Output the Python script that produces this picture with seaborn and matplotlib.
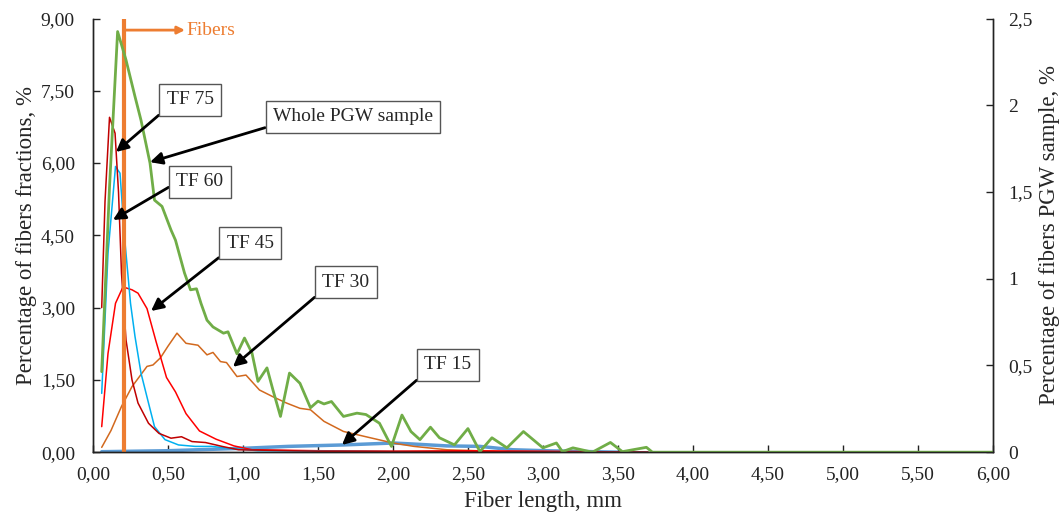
import matplotlib
matplotlib.use("Agg")
import matplotlib.pyplot as plt
import seaborn as sns
import pandas as pd
from matplotlib.ticker import FuncFormatter, MultipleLocator

# values (fiber length in mm, share in %)
pgw_x = [0.058, 0.11, 0.164, 0.22, 0.28, 0.32, 0.38, 0.41, 0.46, 0.52, 0.55, 0.61, 0.65, 0.69,
         0.72, 0.76, 0.80, 0.87, 0.90, 0.96, 1.01, 1.06, 1.10, 1.16, 1.20, 1.25, 1.31, 1.38,
         1.45, 1.50, 1.54, 1.59, 1.67, 1.76, 1.82, 1.91, 1.99, 2.06, 2.12, 2.18, 2.25, 2.31,
         2.41, 2.50, 2.58, 2.66, 2.76, 2.87, 3.00, 3.09, 3.13, 3.20, 3.33, 3.45, 3.53, 3.69,
         3.73, 6.00]
pgw_y = [0.464, 1.528, 2.425, 2.261, 2.05, 1.914, 1.667, 1.453, 1.417, 1.281, 1.222, 1.033,
         0.936, 0.942, 0.858, 0.761, 0.722, 0.686, 0.694, 0.567, 0.658, 0.572, 0.408, 0.486,
         0.358, 0.206, 0.456, 0.397, 0.256, 0.294, 0.278, 0.292, 0.206, 0.225, 0.217, 0.167,
         0.033, 0.214, 0.119, 0.072, 0.144, 0.083, 0.042, 0.136, 0.003, 0.083, 0.025, 0.119,
         0.025, 0.053, 0.003, 0.025, 0.0, 0.056, 0.003, 0.028, 0.0, 0.0]

tf30_x = [0.058, 0.12, 0.19, 0.26, 0.31, 0.36, 0.40, 0.45, 0.50, 0.56, 0.62, 0.70, 0.76, 0.80,
          0.85, 0.89, 0.96, 1.02, 1.11, 1.20, 1.29, 1.38, 1.45, 1.54, 1.67, 1.82, 2.00, 2.14,
          2.36, 2.56, 2.80, 3.70]
tf30_y = [0.10, 0.45, 0.95, 1.36, 1.57, 1.78, 1.81, 1.96, 2.20, 2.47, 2.26, 2.22, 2.02, 2.07,
          1.88, 1.86, 1.57, 1.60, 1.29, 1.15, 1.02, 0.91, 0.88, 0.64, 0.43, 0.32, 0.19, 0.12,
          0.05, 0.03, 0.0, 0.0]

tf45_x = [0.058, 0.10, 0.15, 0.20, 0.26, 0.30, 0.36, 0.42, 0.49, 0.55, 0.62, 0.71, 0.82, 0.94,
          1.06, 1.50, 2.00, 2.50, 3.00, 3.70]
tf45_y = [0.53, 2.05, 3.09, 3.43, 3.37, 3.30, 2.98, 2.30, 1.55, 1.25, 0.80, 0.44, 0.27, 0.13,
          0.05, 0.03, 0.02, 0.03, 0.02, 0.0]

tf75_x = [0.058, 0.08, 0.11, 0.147, 0.17, 0.19, 0.22, 0.26, 0.30, 0.37, 0.44, 0.52, 0.59, 0.66,
          0.75, 0.86, 0.97, 1.50, 2.50, 3.70]
tf75_y = [3.0, 5.2, 6.95, 6.62, 5.4, 3.71, 2.33, 1.50, 1.02, 0.60, 0.39, 0.29, 0.32, 0.22,
          0.20, 0.12, 0.05, 0.02, 0.01, 0.0]

tf60_x = [0.058, 0.10, 0.15, 0.18, 0.21, 0.25, 0.28, 0.32, 0.37, 0.41, 0.48, 0.57, 0.68, 0.79,
          0.91, 1.10, 2.00, 3.70]
tf60_y = [1.22, 4.13, 5.93, 5.79, 4.47, 3.09, 2.40, 1.64, 1.02, 0.53, 0.26, 0.15, 0.12, 0.12,
          0.08, 0.03, 0.01, 0.0]

tf15_x = [0.058, 0.50, 1.00, 1.30, 1.67, 2.00, 2.13, 2.36, 2.58, 2.80, 3.02, 3.50]
tf15_y = [0.01, 0.03, 0.08, 0.12, 0.15, 0.19, 0.17, 0.13, 0.12, 0.05, 0.03, 0.0]

fiber_cut = 0.207

sns.set_style("ticks")
plt.rcParams['font.family'] = ['Liberation Serif', 'DejaVu Serif']

fig = plt.figure(figsize=(10.63, 5.15), dpi=100)
ax = fig.add_subplot(111)
fig.subplots_adjust(left=0.0875, right=0.934, bottom=0.122, top=0.964)
ax2 = ax.twinx()

# fractions on the left axis
sns.lineplot(x=tf15_x, y=tf15_y, ax=ax, color='#5B9BD5', linewidth=2.5)
sns.lineplot(x=tf30_x, y=tf30_y, ax=ax, color='#D2691E', linewidth=1.1)
sns.lineplot(x=tf45_x, y=tf45_y, ax=ax, color='#FF0000', linewidth=1.1)
sns.lineplot(x=tf60_x, y=tf60_y, ax=ax, color='#00B0F0', linewidth=1.1)
sns.lineplot(x=tf75_x, y=tf75_y, ax=ax, color='#C00000', linewidth=1.1)

# whole sample on the right axis
sns.lineplot(x=pgw_x, y=pgw_y, ax=ax2, color='#70AD47', linewidth=2.0)

ax.axvline(fiber_cut, color='#ED7D31', linewidth=3, zorder=5)

ax.set_xlim(0, 6)
ax.set_ylim(0, 9)
ax2.set_ylim(0, 2.5)
ax.xaxis.set_major_locator(MultipleLocator(0.5))
ax.yaxis.set_major_locator(MultipleLocator(1.5))
ax2.yaxis.set_major_locator(MultipleLocator(0.5))
ax.xaxis.set_major_formatter(FuncFormatter(lambda v, p: f"{v:.2f}".replace('.', ',')))
ax.yaxis.set_major_formatter(FuncFormatter(lambda v, p: f"{v:.2f}".replace('.', ',')))
ax2.yaxis.set_major_formatter(FuncFormatter(lambda v, p: f"{v:g}".replace('.', ',')))

for a in (ax, ax2):
    a.tick_params(direction='in', length=5, width=1, labelsize=14, colors='#222222')
    a.spines['top'].set_visible(False)
    for s in ('left', 'right', 'bottom'):
        a.spines[s].set_color('#222222')
        a.spines[s].set_linewidth(1)
ax.tick_params(axis='x', pad=10)
ax.tick_params(axis='y', pad=13)
ax2.tick_params(axis='y', pad=11)

ax.set_xlabel('Fiber length, mm', fontsize=16.5, labelpad=6)
ax.set_ylabel('Percentage of fibers fractions, %', fontsize=16.5, labelpad=3)
ax2.set_ylabel('Percentage of fibers PGW sample, %', fontsize=16.5, labelpad=5)

# annotation boxes with arrows
notes = [
    ('TF 75', (0.647, 7.31), (0.153, 6.23), (0, 0)),
    ('Whole PGW sample', (1.733, 6.96), (0.38, 6.02), (0, 0)),
    ('TF 60', (0.713, 5.61), (0.133, 4.82), (0, 0.45)),
    ('TF 45', (1.047, 4.34), (0.387, 2.93), (0, 0)),
    ('TF 30', (1.687, 3.53), (0.933, 1.77), (0, 0)),
    ('TF 15', (2.367, 1.81), (1.66, 0.15), (0, 0)),
]
for label, txt, tip, rel in notes:
    ax2.annotate(label, xy=tip, xytext=txt, xycoords=ax.transData, textcoords=ax.transData,
                 ha='center', va='center', fontsize=14, zorder=10,
                 bbox=dict(boxstyle='square,pad=0.38', fc='white', ec='#555555', lw=1),
                 arrowprops=dict(arrowstyle='-|>', color='black', lw=2, mutation_scale=18,
                                 shrinkA=0, shrinkB=0, relpos=rel))

ax2.annotate('', xy=(0.613, 8.76), xytext=(fiber_cut, 8.76), xycoords=ax.transData,
             textcoords=ax.transData,
             arrowprops=dict(arrowstyle='-|>', color='#ED7D31', lw=2, mutation_scale=11,
                             shrinkA=0, shrinkB=0))
ax2.text(0.625, 8.76, 'Fibers', transform=ax.transData, color='#ED7D31', fontsize=14,
         ha='left', va='center')

fig.savefig('out.png', dpi=100)
